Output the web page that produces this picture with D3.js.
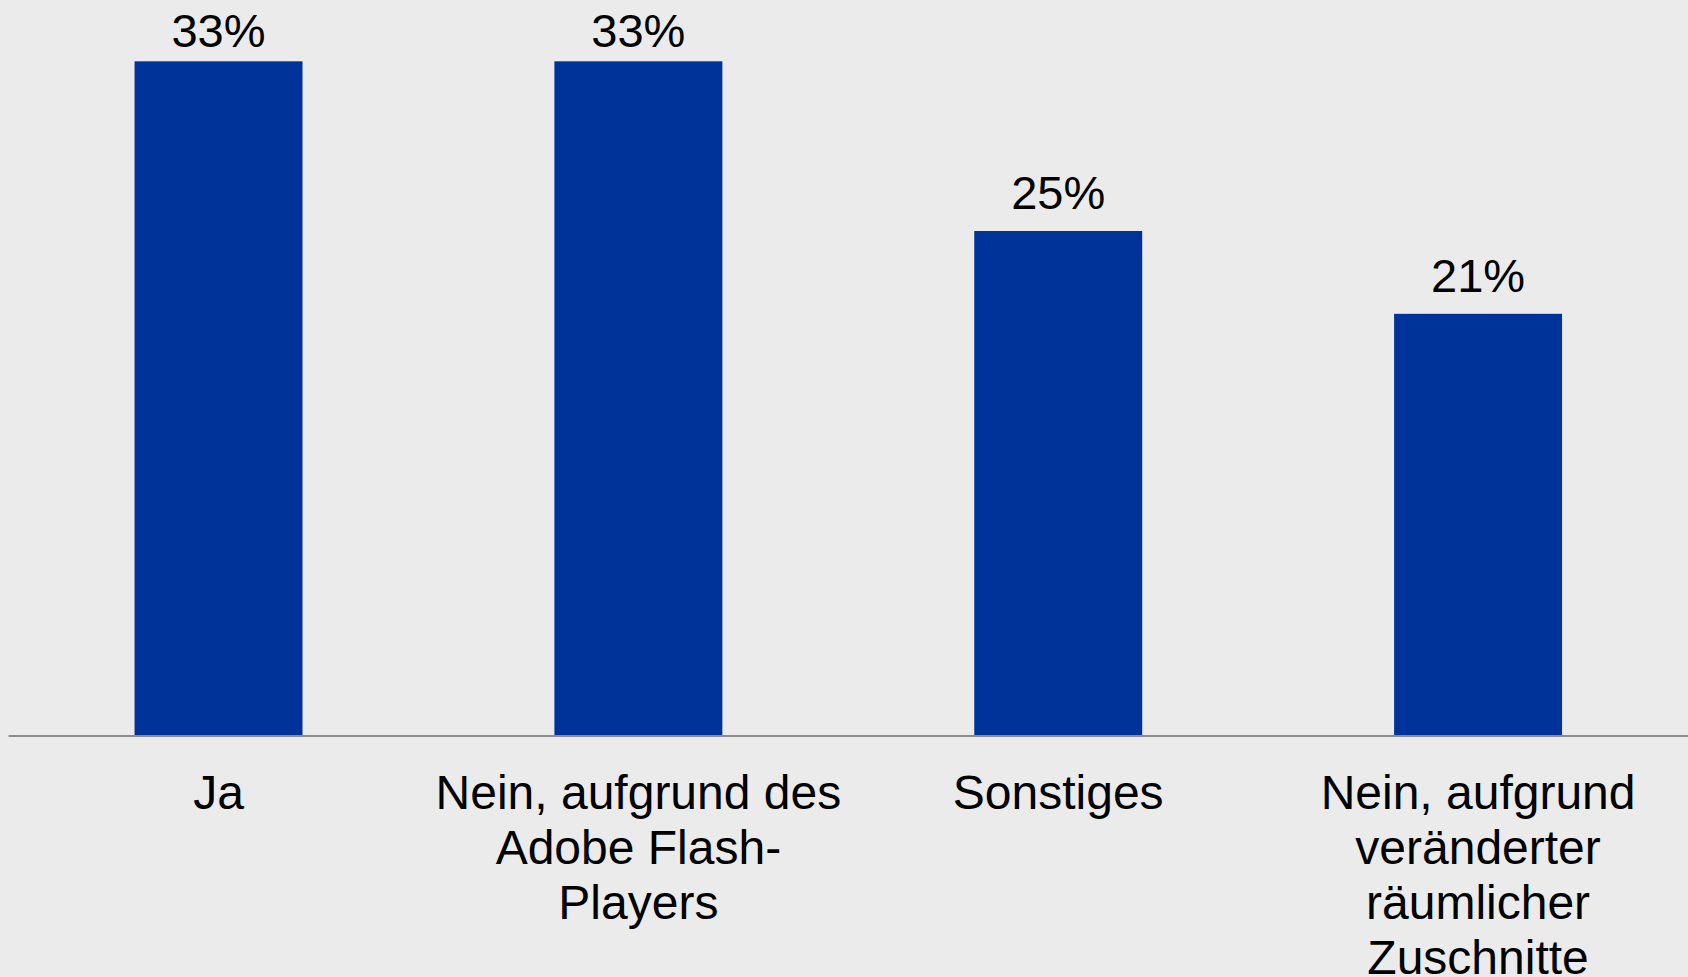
<!DOCTYPE html>
<html>
<head>
<meta charset="utf-8">
<script src="https://cdn.jsdelivr.net/npm/d3@7"></script>
<style>
  html, body { margin: 0; padding: 0; background: #ebebeb; }
  svg { display: block; }
</style>
</head>
<body>
<svg id="chart" width="1688" height="977"></svg>
<script>
const categories = ["Ja", "Nein, aufgrund des Adobe Flash-Players", "Sonstiges", "Nein, aufgrund veränderter räumlicher Zuschnitte"];
const values = [33.4, 33.4, 25.0, 20.9];
const valueLabels = ["33%", "33%", "25%", "21%"];

const W = 1688, H = 977;
const baseline = 736;
const svg = d3.select("#chart");
svg.append("rect").attr("width", W).attr("height", H).attr("fill", "#ebebeb");

const x = d3.scaleBand().domain(categories).range([8.6, W]).paddingInner(0.6).paddingOuter(0.3);
const y = d3.scaleLinear().domain([0, 35]).range([baseline, baseline - 35 * 20.2]);

svg.selectAll("rect.bar").data(categories).enter().append("rect")
  .attr("class", "bar")
  .attr("x", d => x(d))
  .attr("y", (d, i) => y(values[i]))
  .attr("width", x.bandwidth())
  .attr("height", (d, i) => y(0) - y(values[i]))
  .attr("fill", "#003399");

svg.selectAll("text.val").data(categories).enter().append("text")
  .attr("class", "val")
  .attr("x", d => x(d) + x.bandwidth() / 2)
  .attr("y", (d, i) => Math.max(y(values[i]) - 22, 47))
  .attr("text-anchor", "middle")
  .attr("font-family", "'Liberation Sans', Arial, sans-serif")
  .attr("font-size", 47)
  .attr("fill", "#000")
  .text((d, i) => valueLabels[i]);

// axis
const axis = d3.axisBottom(x).tickSize(0).tickFormat("");
const ag = svg.append("g").attr("transform", `translate(0,${baseline})`).call(axis);
ag.select(".domain").attr("stroke", "#8c8c8c").attr("stroke-width", 2).attr("d", `M8.6,0H${W}`);

// wrapped category labels
const fontSize = 48;
const measure = svg.append("text").attr("font-family", "'Liberation Sans', Arial, sans-serif").attr("font-size", fontSize);
function textW(s) { measure.text(s); return measure.node().getComputedTextLength(); }
function wrap(s, maxW) {
  const tokens = [];
  s.split(" ").forEach(w => {
    const parts = w.split(/(?<=-)/);
    parts.forEach((p, j) => tokens.push({ t: p, sp: j === parts.length - 1 }));
  });
  const lines = [];
  let cur = "";
  tokens.forEach(tok => {
    const cand = cur + tok.t;
    if (cur && textW(cand.trim()) > maxW) { lines.push(cur.trim()); cur = tok.t; }
    else cur = cand;
    if (tok.sp) cur += " ";
  });
  if (cur.trim()) lines.push(cur.trim());
  return lines;
}

categories.forEach(c => {
  const lines = wrap(c, 415);
  const t = svg.append("text")
    .attr("x", x(c) + x.bandwidth() / 2)
    .attr("y", baseline + 73)
    .attr("text-anchor", "middle")
    .attr("font-family", "'Liberation Sans', Arial, sans-serif")
    .attr("font-size", fontSize)
    .attr("fill", "#000");
  lines.forEach((l, i) => {
    t.append("tspan").attr("x", x(c) + x.bandwidth() / 2).attr("dy", i === 0 ? 0 : 55).text(l);
  });
});
measure.remove();
</script>
</body>
</html>
